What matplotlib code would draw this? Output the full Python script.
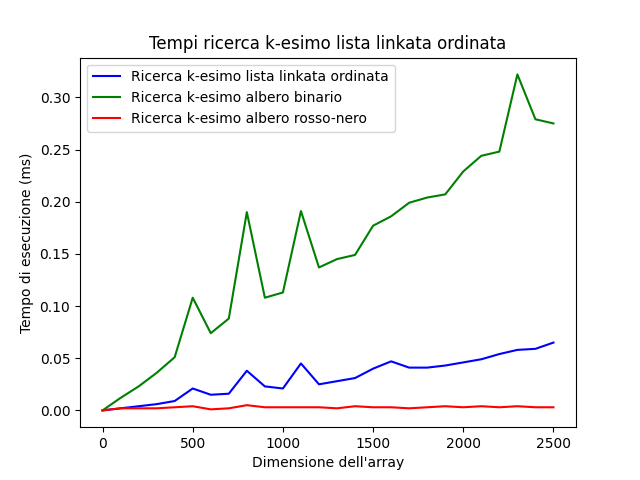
import matplotlib
matplotlib.use("Agg")
import matplotlib.pyplot as plt

dimensioni = list(range(0, 2600, 100))

lista_linkata = [0.0, 0.002, 0.004, 0.006, 0.009, 0.021, 0.015, 0.016, 0.038, 0.023,
                 0.021, 0.045, 0.025, 0.028, 0.031, 0.040, 0.047, 0.041, 0.041, 0.043,
                 0.046, 0.049, 0.054, 0.058, 0.059, 0.065]
albero_binario = [0.0, 0.012, 0.023, 0.036, 0.051, 0.108, 0.074, 0.088, 0.190, 0.108,
                  0.113, 0.191, 0.137, 0.145, 0.149, 0.177, 0.186, 0.199, 0.204, 0.207,
                  0.229, 0.244, 0.248, 0.322, 0.279, 0.275]
rosso_nero = [0.0, 0.002, 0.002, 0.002, 0.003, 0.004, 0.001, 0.002, 0.005, 0.003,
              0.003, 0.003, 0.003, 0.002, 0.004, 0.003, 0.003, 0.002, 0.003, 0.004,
              0.003, 0.004, 0.003, 0.004, 0.003, 0.003]

fig, ax = plt.subplots(figsize=(6.4, 4.8), dpi=100)
ax.plot(dimensioni, lista_linkata, color="blue", label="Ricerca k-esimo lista linkata ordinata")
ax.plot(dimensioni, albero_binario, color="green", label="Ricerca k-esimo albero binario")
ax.plot(dimensioni, rosso_nero, color="red", label="Ricerca k-esimo albero rosso-nero")

ax.set_title("Tempi ricerca k-esimo lista linkata ordinata")
ax.set_xlabel("Dimensione dell'array")
ax.set_ylabel("Tempo di esecuzione (ms)")
ax.legend(loc="upper left")

fig.savefig("out.png")
